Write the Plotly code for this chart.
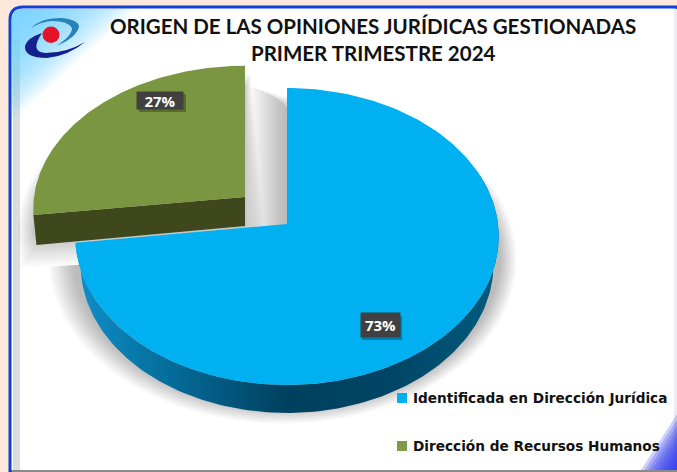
import numpy as np
import plotly.graph_objects as go

categories = ["Identificada en Dirección Jurídica", "Dirección de Recursos Humanos"]
values = [73, 27]
labels = ["73%", "27%"]
colors_top = ["#00B0F0", "#7B9640"]
legend_colors = ["#00B0F0", "#7F9A48"]
title_lines = ["ORIGEN DE LAS OPINIONES JURÍDICAS GESTIONADAS", "PRIMER TRIMESTRE 2024"]

W, H = 677, 472
AX, AY = 287.0, 224.0      # apex of the pie on screen
RX, RY, P = 211.0, 147.4, 0.084   # projected radius and perspective
DEPTH = 28.0
EXPLODE = (-42.0, -27.0)
GREEN_SY = 0.965

total = sum(values)
spans = [v / total * 360 for v in values]
starts = [0, spans[0]]


def rim(t0, t1, sx=1.0, sy=1.0, ox=0.0, oy=0.0, n=160):
    th = np.radians(np.linspace(t0, t1, n))
    d = 1 + P * np.cos(th)
    return (AX + ox + sx * RX * np.sin(th) / d,
            AY + oy - sy * RY * np.cos(th) / d)


def poly(xs, ys, **kw):
    return go.Scatter(x=list(xs), y=list(ys), mode="lines", fill="toself",
                      line=dict(width=0), hoverinfo="skip", showlegend=False, **kw)


fig = go.Figure()
ex, ey = EXPLODE

# soft shadows (green slice first, blue over it)
N = 14
for i in range(N, 0, -1):
    s = 1 + 0.0075 * i
    x, y = rim(starts[1], starts[1] + spans[1], s * 0.995, s * GREEN_SY, ex + 0.4 * i, ey + 22)
    x0 = AX + ex + 1.5 * i
    ax_y = AY + ey + 34 + 1.8 * i
    fig.add_trace(poly([x0, x[0] + 3 + 0.35 * (N - i), *x, x0],
                       [ax_y, y[0] + 2 + 1.9 * i, *y, ax_y],
                       fillcolor="rgba(0,0,0,0.014)"))
for i in range(N, 0, -1):
    s = 1 + 0.0075 * i
    x, y = rim(0, spans[0], s, s, -0.3 * i, 22)
    x0 = AX - 1.2 - 2.6 * i
    fig.add_trace(poly([x0, x0, *x, x0], [AY + 30, 100 - i, *y, AY + 30],
                       fillcolor="rgba(0,0,0,0.018)"))

# blue side wall
x1, y1 = rim(70, spans[0])
x2, y2 = rim(70, spans[0], 0.975, 1.0, 0, DEPTH)
fig.add_trace(go.Scatter(
    x=[*x1, *x2[::-1]], y=[*y1, *y2[::-1]], mode="lines", fill="toself",
    line=dict(width=0), hoverinfo="skip", showlegend=False,
    fillgradient=dict(type="horizontal", colorscale=[
        [0, "#0E8FC8"], [0.2, "#05709F"], [0.5, "#00405F"], [0.75, "#004565"], [1, "#005C80"]])))

# blue top face
x, y = rim(starts[0], starts[0] + spans[0])
fig.add_trace(poly([AX, *x, AX], [AY, *y, AY], fillcolor=colors_top[0]))

# green side wall: the radial face
xa, ya = rim(starts[1], starts[1] + 0.001, 1.0, GREEN_SY, ex, ey, n=2)
fig.add_trace(poly([AX + ex, xa[0], xa[0] + 3, AX + ex, AX + ex],
                   [AY + ey, ya[0], ya[0] + DEPTH + 2, AY + ey + DEPTH + 1, AY + ey],
                   fillcolor="#3F481C"))

# green top face
x, y = rim(starts[1], starts[1] + spans[1], 1.0, GREEN_SY, ex, ey)
fig.add_trace(poly([AX + ex, *x, AX + ex], [AY + ey, *y, AY + ey], fillcolor=colors_top[1]))

# legend keys
LEG_Y = [398, 446]
fig.add_trace(go.Scatter(x=[402, 402], y=LEG_Y, mode="markers", hoverinfo="skip", showlegend=False,
                         marker=dict(symbol="square", size=10, color=legend_colors, line_width=0)))

shapes = [
    dict(type="path", path=f"M 10 {H} L 10 20 Q 10 7 23 7 L {W} 7 L {W} {H} Z",
         fillcolor="#FFFFFF", line=dict(color="#1140D8", width=3), layer="below"),
    dict(type="rect", x0=13, x1=20, y0=40, y1=470, fillcolor="#DCDCE0", line_width=0, layer="below"),
    dict(type="rect", x0=12, x1=W, y0=470, y1=H, fillcolor="#8A8A8A", line_width=0, layer="below"),
    dict(type="rect", x0=674, x1=W, y0=9, y1=470, fillcolor="#ECECF2", line_width=0, layer="below"),
]
# top-left cyan glow
for i in range(30):
    r = 8 + i * 3.4
    shapes.append(dict(type="path",
                       path=f"M 12 {9 + r * 1.05} L 12 20 Q 12 9 23 9 L {12 + r * 1.15} 9 Z",
                       fillcolor="rgba(110,210,250,0.07)", line_width=0, layer="below"))
# bottom-right blue corner
for i in range(10):
    k = 1 - i / 10
    shapes.append(dict(type="path",
                       path=f"M {W} {H - 2} L {W - 36 * k} {H - 2} L {W} {H - 2 - 56 * k} Z",
                       fillcolor="rgba(50,60,235,0.24)", line_width=0, layer="below"))
# logo
shapes += [
    dict(type="path", path="M 25 46 Q 24 58 47 58 Q 68 56 85 42 Q 66 53 46 53 Q 29 52 42 33 Q 27 38 25 46 Z",
         fillcolor="#16208C", line_width=0, layer="below"),
    dict(type="path", path="M 31 28 Q 42 17 62 18 Q 79 20 79 27 Q 76 38 56 46 Q 72 36 72 28 Q 68 21 52 21 Q 40 22 31 28 Z",
         fillcolor="#2A83B8", line_width=0, layer="below"),
    dict(type="circle", x0=42.5, x1=59.5, y0=26.5, y1=43, fillcolor="#E5132A", line_width=0, layer="below"),
    # label box shadows
    dict(type="rect", x0=139, x1=186, y0=94, y1=112, fillcolor="rgba(0,0,0,0.28)", line_width=0),
    dict(type="rect", x0=362, x1=402, y0=316, y1=340, fillcolor="rgba(0,0,0,0.28)", line_width=0),
]

bold = "bold"
ann = [
    dict(x=373, y=26, text=title_lines[0], font=dict(family="Lato", size=20.5, color="#111111", weight=bold)),
    dict(x=373, y=52.5, text=title_lines[1], font=dict(family="Lato", size=20.5, color="#111111", weight=bold)),
    dict(x=160, y=100.5, text=labels[1], font=dict(family="Open Sans", size=15, color="#FFFFFF", weight=bold),
         bgcolor="#404040", borderpad=0, width=46, height=17),
    dict(x=380, y=325, text=labels[0], font=dict(family="Open Sans", size=15, color="#FFFFFF", weight=bold),
         bgcolor="#404040", borderpad=0, width=39, height=24),
    dict(x=410.5, y=LEG_Y[0], text=categories[0], xanchor="left",
         font=dict(family="DejaVu Sans", size=13.65, color="#111111", weight=bold)),
    dict(x=410.5, y=LEG_Y[1], text=categories[1], xanchor="left",
         font=dict(family="DejaVu Sans", size=13.65, color="#111111", weight=bold)),
]
for a in ann:
    a.setdefault("xanchor", "center")
    a.update(xref="x", yref="y", showarrow=False, yanchor="middle")

fig.update_layout(
    width=W, height=H, autosize=False,
    margin=dict(l=0, r=0, t=0, b=0),
    paper_bgcolor="#FDE8DC", plot_bgcolor="rgba(0,0,0,0)",
    xaxis=dict(range=[0, W], visible=False, fixedrange=True),
    yaxis=dict(range=[H, 0], visible=False, fixedrange=True),
    shapes=shapes, annotations=ann, showlegend=False,
)
fig.write_html("out.html", config={"displayModeBar": False},
               post_script="document.body.style.margin='0';document.body.style.overflow='hidden';")
